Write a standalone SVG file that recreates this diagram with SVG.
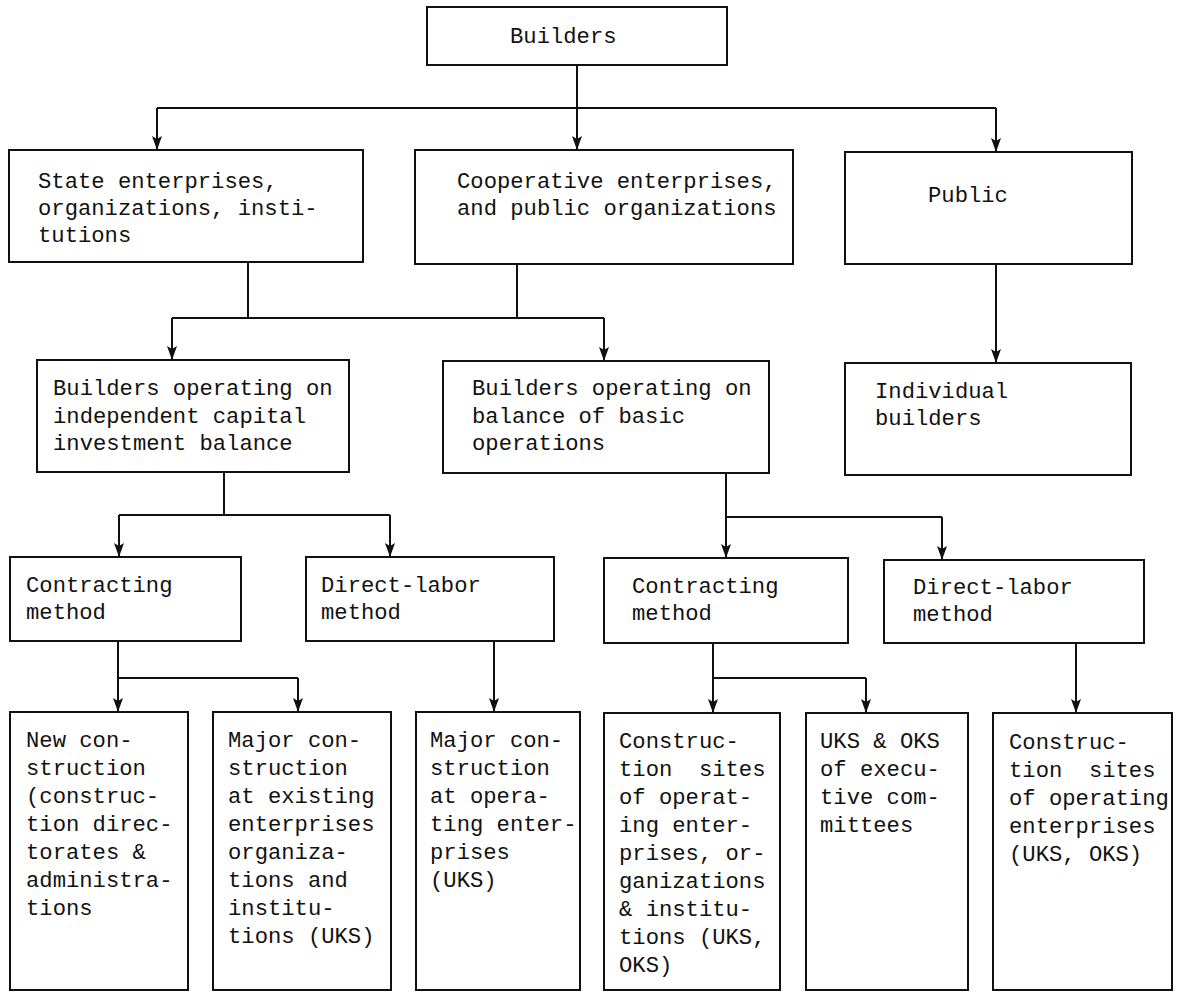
<svg xmlns="http://www.w3.org/2000/svg" width="1181" height="993" viewBox="0 0 1181 993">
  <style>
    .box { fill: #fff; stroke: #111; stroke-width: 2; }
    .lbl { font-family: "Liberation Mono", "DejaVu Sans Mono", monospace; font-size: 22.2px; fill: #111; }
    .wire { fill: none; stroke: #111; stroke-width: 2; }
    .arrow { fill: none; stroke: #111; stroke-width: 2; marker-end: url(#head); }
  </style>
  <defs>
    <marker id="head" markerUnits="userSpaceOnUse" markerWidth="14" markerHeight="10" viewBox="0 0 14 10" refX="14" refY="5" orient="auto">
      <path d="M0,0 L14,5 L0,10 L3,5 Z" fill="#111"/>
    </marker>
  </defs>
  <rect width="1181" height="993" fill="#fff"/>

  <!-- connectors -->
  <g id="connectors">
    <!-- Builders to the three owner groups -->
    <path class="arrow" d="M577,65 V150"/>
    <path class="wire" d="M157,108 H996"/>
    <path class="arrow" d="M157,108 V150"/>
    <path class="arrow" d="M996,108 V152"/>
    <!-- state and cooperative to balance types -->
    <path class="wire" d="M248,262 V318"/>
    <path class="wire" d="M517,264 V318"/>
    <path class="wire" d="M172,318 H604"/>
    <path class="arrow" d="M172,318 V360"/>
    <path class="arrow" d="M604,318 V361"/>
    <!-- public to individual builders -->
    <path class="arrow" d="M996,264 V363"/>
    <!-- independent balance to methods -->
    <path class="wire" d="M224,472 V515 M119,515 H390"/>
    <path class="arrow" d="M119,515 V557"/>
    <path class="arrow" d="M390,515 V557"/>
    <!-- basic operations balance to methods -->
    <path class="wire" d="M726,473 V517 H942"/>
    <path class="arrow" d="M726,517 V558"/>
    <path class="arrow" d="M942,517 V560"/>
    <!-- left contracting method -->
    <path class="wire" d="M118,641 V678 H298"/>
    <path class="arrow" d="M118,678 V712"/>
    <path class="arrow" d="M298,678 V712"/>
    <!-- left direct-labor method -->
    <path class="arrow" d="M494,641 V712"/>
    <!-- right contracting method -->
    <path class="wire" d="M713,643 V678 H866"/>
    <path class="arrow" d="M713,678 V713"/>
    <path class="arrow" d="M866,678 V713"/>
    <!-- right direct-labor method -->
    <path class="arrow" d="M1076,643 V713"/>
  </g>

  <g id="builders">
    <rect class="box" x="427" y="7" width="300" height="58"/>
    <text class="lbl" x="510" y="43">Builders</text>
  </g>

  <g id="state">
    <rect class="box" x="9" y="150" width="354" height="112"/>
    <text class="lbl" x="38" y="188">State enterprises,</text>
    <text class="lbl" x="38" y="215">organizations, insti-</text>
    <text class="lbl" x="38" y="242">tutions</text>
  </g>

  <g id="cooperative">
    <rect class="box" x="415" y="150" width="378" height="114"/>
    <text class="lbl" x="457" y="188">Cooperative enterprises,</text>
    <text class="lbl" x="457" y="215">and public organizations</text>
  </g>

  <g id="public">
    <rect class="box" x="845" y="152" width="287" height="112"/>
    <text class="lbl" x="928" y="202">Public</text>
  </g>

  <g id="independent-balance">
    <rect class="box" x="37" y="360" width="312" height="112"/>
    <text class="lbl" x="53" y="395">Builders operating on</text>
    <text class="lbl" x="53" y="423">independent capital</text>
    <text class="lbl" x="53" y="450">investment balance</text>
  </g>

  <g id="basic-balance">
    <rect class="box" x="443" y="361" width="326" height="112"/>
    <text class="lbl" x="472" y="395">Builders operating on</text>
    <text class="lbl" x="472" y="423">balance of basic</text>
    <text class="lbl" x="472" y="450">operations</text>
  </g>

  <g id="individual">
    <rect class="box" x="845" y="363" width="286" height="112"/>
    <text class="lbl" x="875" y="398">Individual</text>
    <text class="lbl" x="875" y="425">builders</text>
  </g>

  <g id="contracting-left">
    <rect class="box" x="10" y="557" width="231" height="84"/>
    <text class="lbl" x="26" y="592">Contracting</text>
    <text class="lbl" x="26" y="619">method</text>
  </g>

  <g id="direct-left">
    <rect class="box" x="306" y="557" width="248" height="84"/>
    <text class="lbl" x="321" y="592">Direct-labor</text>
    <text class="lbl" x="321" y="619">method</text>
  </g>

  <g id="contracting-right">
    <rect class="box" x="604" y="558" width="244" height="85"/>
    <text class="lbl" x="632" y="593">Contracting</text>
    <text class="lbl" x="632" y="620">method</text>
  </g>

  <g id="direct-right">
    <rect class="box" x="884" y="560" width="260" height="83"/>
    <text class="lbl" x="913" y="594">Direct-labor</text>
    <text class="lbl" x="913" y="621">method</text>
  </g>

  <g id="new-construction">
    <rect class="box" x="10" y="712" width="178" height="278"/>
    <text class="lbl" x="26" y="747">New con-</text>
    <text class="lbl" x="26" y="775">struction</text>
    <text class="lbl" x="26" y="803">(construc-</text>
    <text class="lbl" x="26" y="831">tion direc-</text>
    <text class="lbl" x="26" y="859">torates &amp;</text>
    <text class="lbl" x="26" y="887">administra-</text>
    <text class="lbl" x="26" y="915">tions</text>
  </g>

  <g id="major-existing">
    <rect class="box" x="213" y="712" width="178" height="278"/>
    <text class="lbl" x="228" y="747">Major con-</text>
    <text class="lbl" x="228" y="775">struction</text>
    <text class="lbl" x="228" y="803">at existing</text>
    <text class="lbl" x="228" y="831">enterprises</text>
    <text class="lbl" x="228" y="859">organiza-</text>
    <text class="lbl" x="228" y="887">tions and</text>
    <text class="lbl" x="228" y="915">institu-</text>
    <text class="lbl" x="228" y="943">tions (UKS)</text>
  </g>

  <g id="major-operating">
    <rect class="box" x="416" y="712" width="164" height="278"/>
    <text class="lbl" x="430" y="747">Major con-</text>
    <text class="lbl" x="430" y="775">struction</text>
    <text class="lbl" x="430" y="803">at opera-</text>
    <text class="lbl" x="430" y="831">ting enter-</text>
    <text class="lbl" x="430" y="859">prises</text>
    <text class="lbl" x="430" y="887">(UKS)</text>
  </g>

  <g id="sites-contracting">
    <rect class="box" x="604" y="713" width="176" height="277"/>
    <text class="lbl" x="619" y="748">Construc-</text>
    <text class="lbl" x="619" y="776" xml:space="preserve">tion  sites</text>
    <text class="lbl" x="619" y="804">of operat-</text>
    <text class="lbl" x="619" y="832">ing enter-</text>
    <text class="lbl" x="619" y="860">prises, or-</text>
    <text class="lbl" x="619" y="888">ganizations</text>
    <text class="lbl" x="619" y="916">&amp; institu-</text>
    <text class="lbl" x="619" y="944">tions (UKS,</text>
    <text class="lbl" x="619" y="972">OKS)</text>
  </g>

  <g id="executive-committees">
    <rect class="box" x="806" y="713" width="162" height="277"/>
    <text class="lbl" x="820" y="748">UKS &amp; OKS</text>
    <text class="lbl" x="820" y="776">of execu-</text>
    <text class="lbl" x="820" y="804">tive com-</text>
    <text class="lbl" x="820" y="832">mittees</text>
  </g>

  <g id="sites-direct">
    <rect class="box" x="993" y="713" width="179" height="277"/>
    <text class="lbl" x="1009" y="749">Construc-</text>
    <text class="lbl" x="1009" y="777" xml:space="preserve">tion  sites</text>
    <text class="lbl" x="1009" y="805">of operating</text>
    <text class="lbl" x="1009" y="833">enterprises</text>
    <text class="lbl" x="1009" y="861">(UKS, OKS)</text>
  </g>
</svg>
